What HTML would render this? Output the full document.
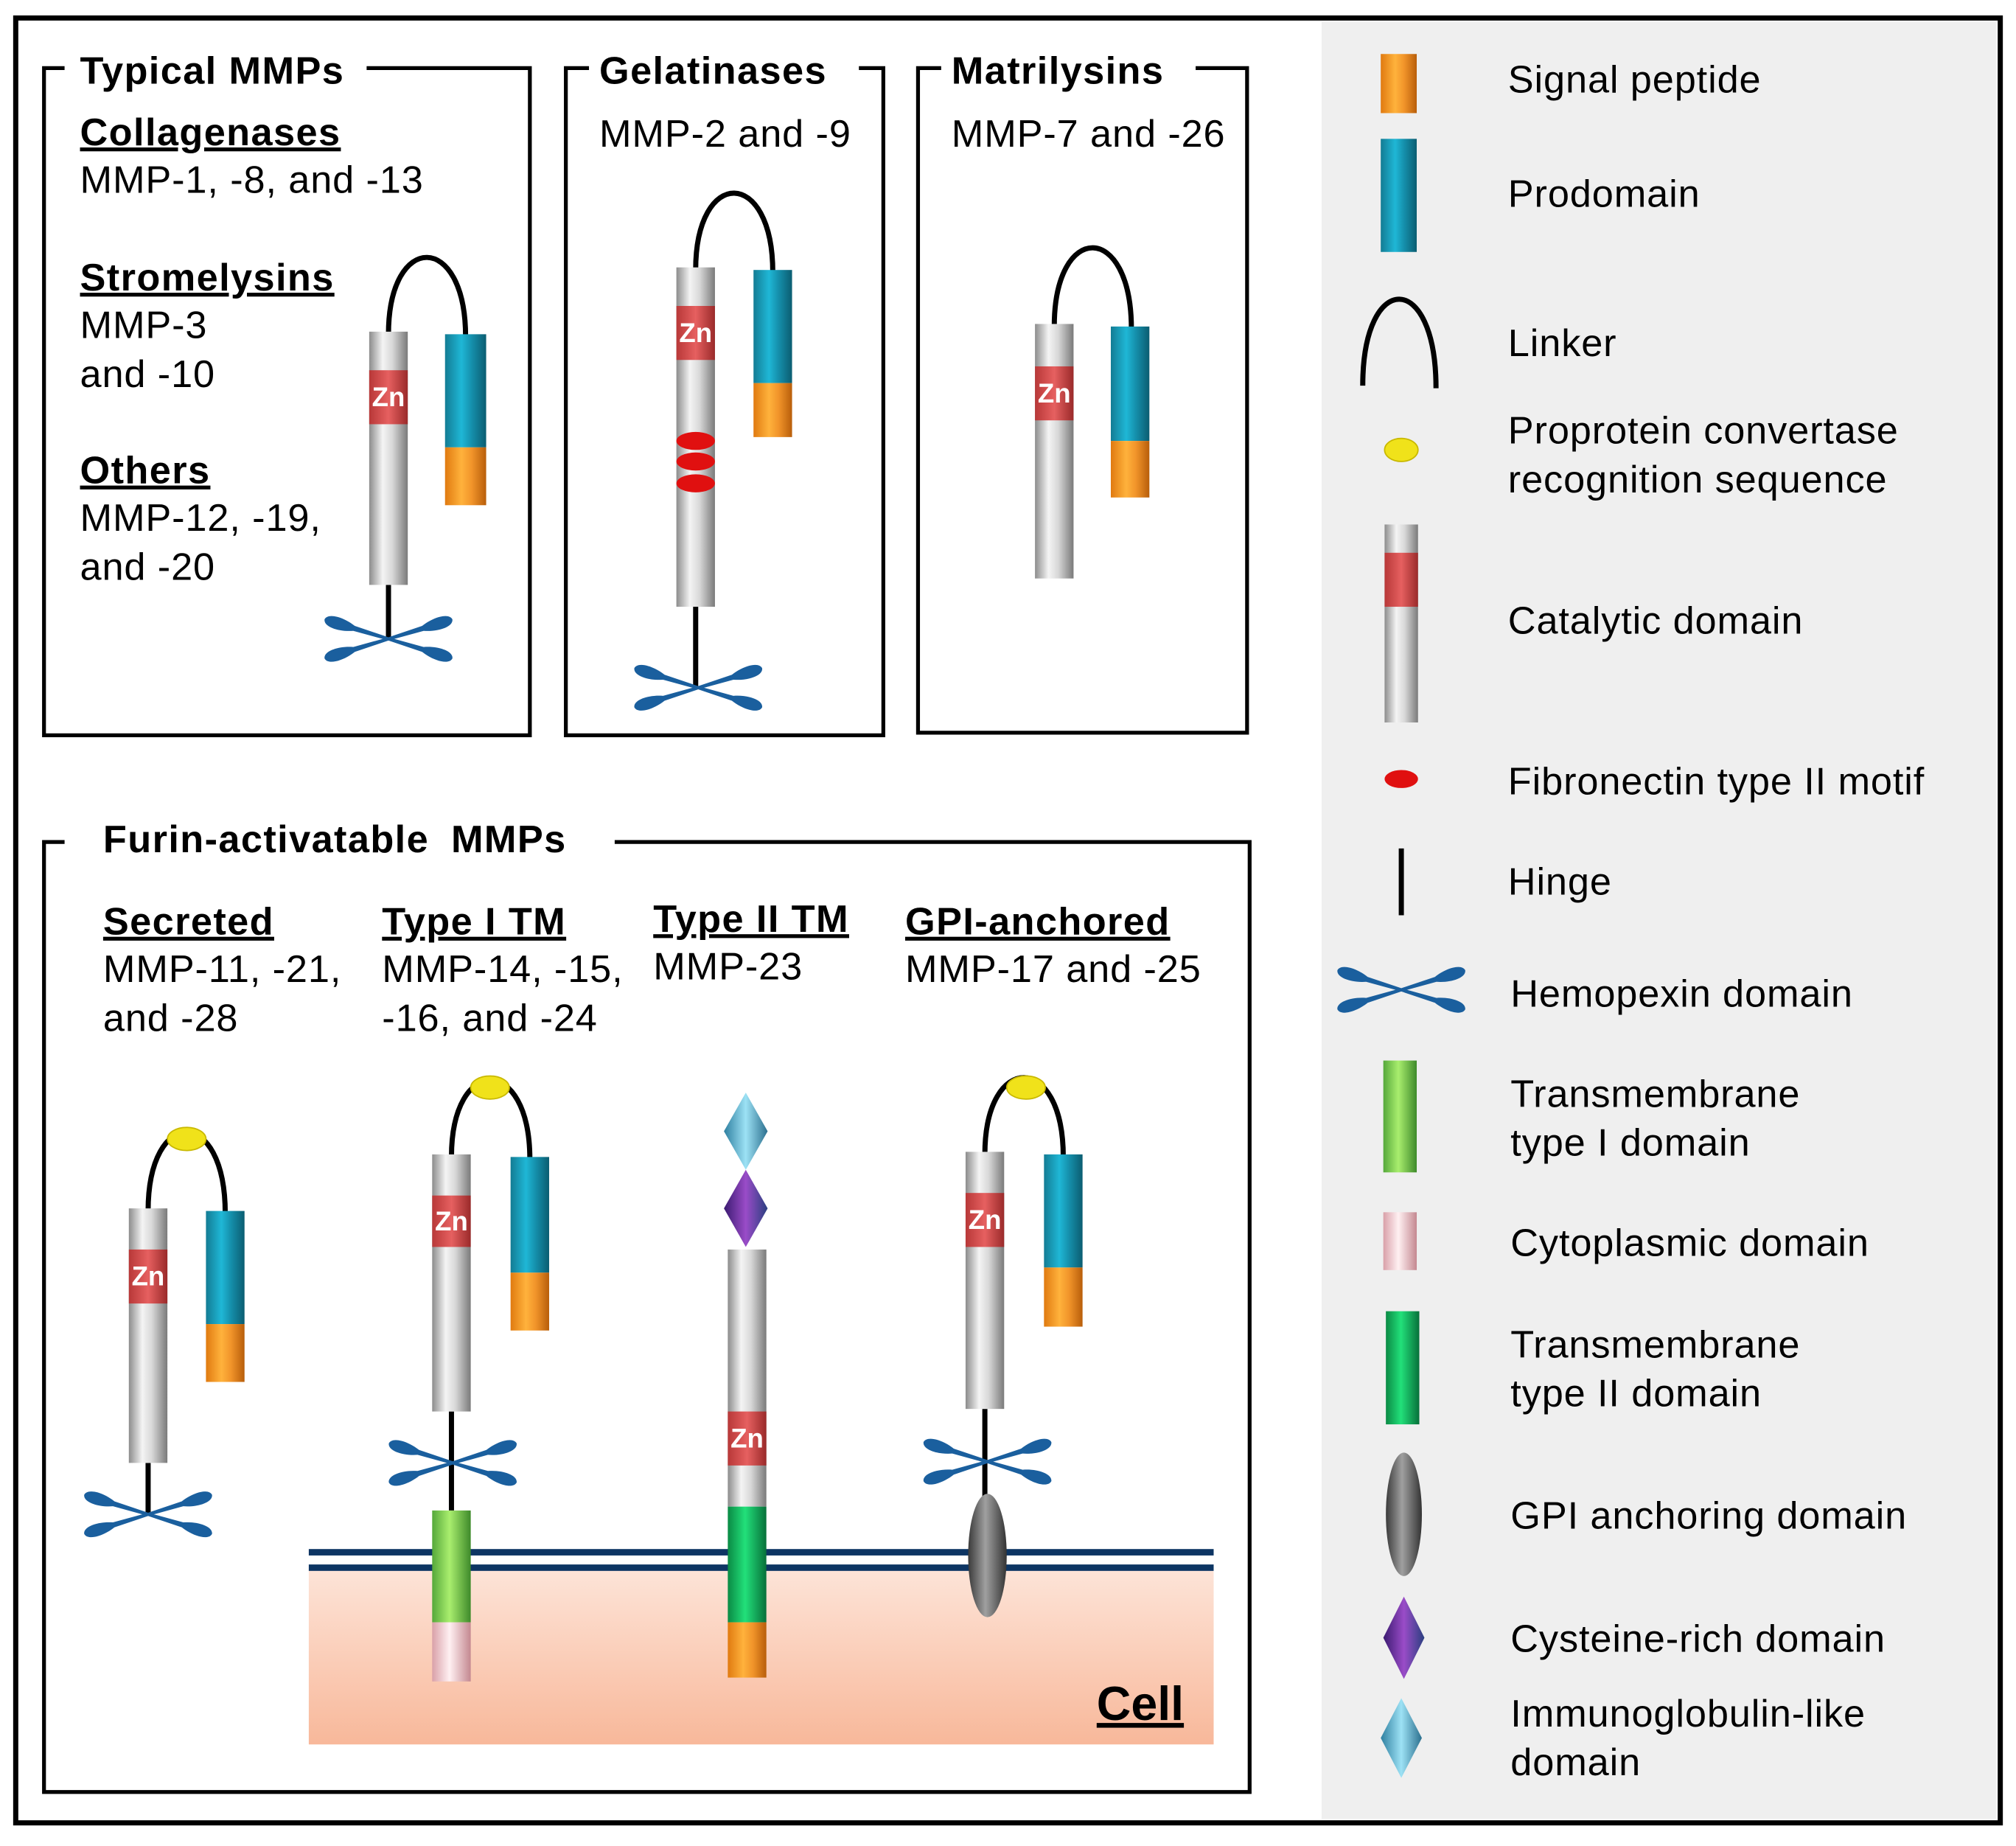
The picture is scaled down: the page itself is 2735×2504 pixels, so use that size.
<!DOCTYPE html>
<html><head><meta charset="utf-8"><style>
html,body{margin:0;padding:0;background:#fff}
svg{display:block}
text{font-family:"Liberation Sans",Arial,sans-serif;fill:#000}
.t{font-size:30px;letter-spacing:0.5px}
.b{font-size:30px;font-weight:bold;letter-spacing:0.8px}
.u{text-decoration:underline}
.z{font-size:21px;font-weight:bold;fill:#fff}
</style></head><body>
<svg width="2735" height="2504" viewBox="0 0 1568 1436" xmlns="http://www.w3.org/2000/svg">
<defs>
<linearGradient id="gG" x1="0" x2="1"><stop offset="0" stop-color="#8c8c8c"/><stop offset=".35" stop-color="#f4f4f4"/><stop offset=".6" stop-color="#d8d8d8"/><stop offset="1" stop-color="#7a7a7a"/></linearGradient>
<linearGradient id="gT" x1="0" x2="1"><stop offset="0" stop-color="#137c94"/><stop offset=".4" stop-color="#1fb7d6"/><stop offset=".65" stop-color="#158fab"/><stop offset="1" stop-color="#0b5d71"/></linearGradient>
<linearGradient id="gO" x1="0" x2="1"><stop offset="0" stop-color="#e07a10"/><stop offset=".4" stop-color="#ffb23c"/><stop offset=".65" stop-color="#f1942a"/><stop offset="1" stop-color="#b85e0a"/></linearGradient>
<linearGradient id="gR" x1="0" x2="1"><stop offset="0" stop-color="#b83838"/><stop offset=".5" stop-color="#e66060"/><stop offset="1" stop-color="#9a2a2a"/></linearGradient>
<linearGradient id="gL" x1="0" x2="1"><stop offset="0" stop-color="#55a83a"/><stop offset=".45" stop-color="#a9ee6e"/><stop offset="1" stop-color="#3e8a2a"/></linearGradient>
<linearGradient id="gD" x1="0" x2="1"><stop offset="0" stop-color="#0a8a44"/><stop offset=".45" stop-color="#22e07a"/><stop offset="1" stop-color="#07703a"/></linearGradient>
<linearGradient id="gP" x1="0" x2="1"><stop offset="0" stop-color="#d9a0a8"/><stop offset=".45" stop-color="#fff0f2"/><stop offset="1" stop-color="#c48890"/></linearGradient>
<linearGradient id="gE" x1="0" x2="1"><stop offset="0" stop-color="#3a3a3a"/><stop offset=".45" stop-color="#a0a0a0"/><stop offset="1" stop-color="#333"/></linearGradient>
<linearGradient id="gC" x1="0" x2="0" y1="0" y2="1"><stop offset="0" stop-color="#fde4d8"/><stop offset="1" stop-color="#f8b89a"/></linearGradient>
<linearGradient id="gI" x1="0" x2="1"><stop offset="0" stop-color="#2e7fa0"/><stop offset=".5" stop-color="#9de2f5"/><stop offset="1" stop-color="#2b6f8e"/></linearGradient>
<linearGradient id="gV" x1="0" x2="1"><stop offset="0" stop-color="#3a1a70"/><stop offset=".5" stop-color="#9a4cc8"/><stop offset="1" stop-color="#2a3f80"/></linearGradient>
<path id="pt" d="M0,-1.2 L28,-2 C38,-6 51,-6 52,0 C51,6 38,6 28,2 L0,1.2 Z"/>
<g id="hx" fill="#1a5f9e">
<use href="#pt" transform="rotate(-17)"/>
<use href="#pt" transform="rotate(17)"/>
<use href="#pt" transform="rotate(163)"/>
<use href="#pt" transform="rotate(197)"/>
</g>
</defs>
<rect x="12" y="14" width="1544" height="1404" fill="#fff" stroke="#000" stroke-width="4"/>
<rect x="1028" y="17" width="525" height="1398" fill="#efefef"/>

<g fill="none" stroke="#000" stroke-width="3">
<path d="M50,53 H34 V572 H412 V53 H285"/>
<path d="M458,53 H440 V572 H687 V53 H668"/>
<path d="M732,53 H714 V570 H970 V53 H930"/>
<path d="M50,655 H34 V1394 H972 V655 H478"/>
</g>
<text class="b" x="62" y="65">Typical MMPs</text>
<text class="b u" x="62" y="113">Collagenases</text>
<text class="t" x="62" y="150">MMP-1, -8, and -13</text>
<text class="b u" x="62" y="226">Stromelysins</text>
<text class="t" x="62" y="263">MMP-3</text>
<text class="t" x="62" y="301">and -10</text>
<text class="b u" x="62" y="376">Others</text>
<text class="t" x="62" y="413">MMP-12, -19,</text>
<text class="t" x="62" y="451">and -20</text>
<text class="b" x="466" y="65">Gelatinases</text>
<text class="t" x="466" y="114">MMP-2 and -9</text>
<text class="b" x="740" y="65">Matrilysins</text>
<text class="t" x="740" y="114">MMP-7 and -26</text>
<text class="b" x="80" y="663" style="word-spacing:8px">Furin-activatable MMPs</text>
<text class="b u" x="80" y="727">Secreted</text>
<text class="t" x="80" y="764">MMP-11, -21,</text>
<text class="t" x="80" y="802">and -28</text>
<text class="b u" x="297" y="727">Type I TM</text>
<text class="t" x="297" y="764">MMP-14, -15,</text>
<text class="t" x="297" y="802">-16, and -24</text>
<text class="b u" x="508" y="725">Type II TM</text>
<text class="t" x="508" y="762">MMP-23</text>
<text class="b u" x="704" y="727">GPI-anchored</text>
<text class="t" x="704" y="764">MMP-17 and -25</text>

<rect x="240" y="1220" width="704" height="137" fill="url(#gC)"/>
<rect x="240" y="1205" width="704" height="5" fill="#0d3563"/>
<rect x="240" y="1217" width="704" height="5" fill="#0d3563"/>
<text x="853" y="1338" style="font-size:37px;font-weight:bold;text-decoration:underline">Cell</text>

<g stroke="#000" stroke-width="4" fill="none">
<path d="M302,260 C302,180 362,180 362,262"/>
<path d="M541,210 C541,130 601,130 601,212"/>
<path d="M820,254 C820,172 880,172 880,256"/>
<path d="M115,942 C115,860 175,860 175,944"/>
<path d="M351,900 C351,820 412,820 412,902"/>
<path d="M766,898 C766,818 827,818 827,900"/>
<path d="M302,455 V497 M541,472 V535 M115,1138 V1178 M351,1098 V1175 M766,1096 V1165"/>
<path d="M1060,300 C1060,210 1117,210 1117,302"/>
<path d="M1090,660 V712"/>
</g>
<g fill="#f0e21a" stroke="#c8b800" stroke-width="1">
<ellipse cx="145" cy="886" rx="15" ry="9"/><ellipse cx="381" cy="846" rx="15" ry="9"/><ellipse cx="798" cy="846" rx="15" ry="9"/><ellipse cx="1090" cy="350" rx="13" ry="9"/>
</g>

<g>
<rect x="287" y="258" width="30" height="197" fill="url(#gG)"/><rect x="287" y="288" width="30" height="42" fill="url(#gR)"/>
<rect x="346" y="260" width="32" height="88" fill="url(#gT)"/><rect x="346" y="348" width="32" height="45" fill="url(#gO)"/>
<rect x="526" y="208" width="30" height="264" fill="url(#gG)"/><rect x="526" y="238" width="30" height="42" fill="url(#gR)"/>
<rect x="586" y="210" width="30" height="88" fill="url(#gT)"/><rect x="586" y="298" width="30" height="42" fill="url(#gO)"/>
<rect x="805" y="252" width="30" height="198" fill="url(#gG)"/><rect x="805" y="285" width="30" height="42" fill="url(#gR)"/>
<rect x="864" y="254" width="30" height="89" fill="url(#gT)"/><rect x="864" y="343" width="30" height="44" fill="url(#gO)"/>
<rect x="100" y="940" width="30" height="198" fill="url(#gG)"/><rect x="100" y="972" width="30" height="42" fill="url(#gR)"/>
<rect x="160" y="942" width="30" height="88" fill="url(#gT)"/><rect x="160" y="1030" width="30" height="45" fill="url(#gO)"/>
<rect x="336" y="898" width="30" height="200" fill="url(#gG)"/><rect x="336" y="930" width="30" height="40" fill="url(#gR)"/>
<rect x="397" y="900" width="30" height="90" fill="url(#gT)"/><rect x="397" y="990" width="30" height="45" fill="url(#gO)"/>
<rect x="336" y="1175" width="30" height="87" fill="url(#gL)"/><rect x="336" y="1262" width="30" height="46" fill="url(#gP)"/>
<rect x="566" y="972" width="30" height="200" fill="url(#gG)"/><rect x="566" y="1098" width="30" height="42" fill="url(#gR)"/>
<rect x="566" y="1172" width="30" height="90" fill="url(#gD)"/><rect x="566" y="1262" width="30" height="43" fill="url(#gO)"/>
<rect x="751" y="896" width="30" height="200" fill="url(#gG)"/><rect x="751" y="928" width="30" height="42" fill="url(#gR)"/>
<rect x="812" y="898" width="30" height="88" fill="url(#gT)"/><rect x="812" y="986" width="30" height="46" fill="url(#gO)"/>
<ellipse cx="768" cy="1210" rx="15" ry="48" fill="url(#gE)"/>
<path d="M580,850 L597,880 L580,910 L563,880 Z" fill="url(#gI)"/>
<path d="M580,910 L597,940 L580,970 L563,940 Z" fill="url(#gV)"/>
<g fill="#e01010"><ellipse cx="541" cy="343" rx="15" ry="7"/><ellipse cx="541" cy="359" rx="15" ry="7"/><ellipse cx="541" cy="376" rx="15" ry="7"/></g>
</g>
<g text-anchor="middle">
<text class="z" x="302" y="316">Zn</text><text class="z" x="541" y="266">Zn</text><text class="z" x="820" y="313">Zn</text>
<text class="z" x="115" y="1000">Zn</text><text class="z" x="351" y="957">Zn</text><text class="z" x="581" y="1126">Zn</text><text class="z" x="766" y="956">Zn</text>
<text class="z" x="1090" y="458">Zn</text>
</g>
<use href="#hx" x="302" y="497"/><use href="#hx" x="543" y="535"/><use href="#hx" x="115" y="1178"/><use href="#hx" x="352" y="1138"/><use href="#hx" x="768" y="1137"/>

<rect x="1074" y="42" width="28" height="46" fill="url(#gO)"/>
<rect x="1074" y="108" width="28" height="88" fill="url(#gT)"/>
<rect x="1077" y="408" width="26" height="154" fill="url(#gG)"/><rect x="1077" y="430" width="26" height="42" fill="url(#gR)"/>
<ellipse cx="1090" cy="606" rx="13" ry="7" fill="#e01010"/>
<use href="#hx" x="1090" y="770"/>
<rect x="1076" y="825" width="26" height="87" fill="url(#gL)"/>
<rect x="1076" y="943" width="26" height="45" fill="url(#gP)"/>
<rect x="1078" y="1020" width="26" height="88" fill="url(#gD)"/>
<ellipse cx="1092" cy="1178" rx="14" ry="48" fill="url(#gE)"/>
<path d="M1092,1242 L1108,1274 L1092,1306 L1076,1274 Z" fill="url(#gV)"/>
<path d="M1090,1321 L1106,1352 L1090,1383 L1074,1352 Z" fill="url(#gI)"/>
<g>
<text class="t" x="1173" y="72">Signal peptide</text>
<text class="t" x="1173" y="161">Prodomain</text>
<text class="t" x="1173" y="277">Linker</text>
<text class="t" x="1173" y="345">Proprotein convertase</text>
<text class="t" x="1173" y="383">recognition sequence</text>
<text class="t" x="1173" y="493">Catalytic domain</text>
<text class="t" x="1173" y="618">Fibronectin type II motif</text>
<text class="t" x="1173" y="696">Hinge</text>
<text class="t" x="1175" y="783">Hemopexin domain</text>
<text class="t" x="1175" y="861">Transmembrane</text>
<text class="t" x="1175" y="899">type I domain</text>
<text class="t" x="1175" y="977">Cytoplasmic domain</text>
<text class="t" x="1175" y="1056">Transmembrane</text>
<text class="t" x="1175" y="1094">type II domain</text>
<text class="t" x="1175" y="1189">GPI anchoring domain</text>
<text class="t" x="1175" y="1285">Cysteine-rich domain</text>
<text class="t" x="1175" y="1343">Immunoglobulin-like</text>
<text class="t" x="1175" y="1381">domain</text>
</g>
</svg>
</body></html>
